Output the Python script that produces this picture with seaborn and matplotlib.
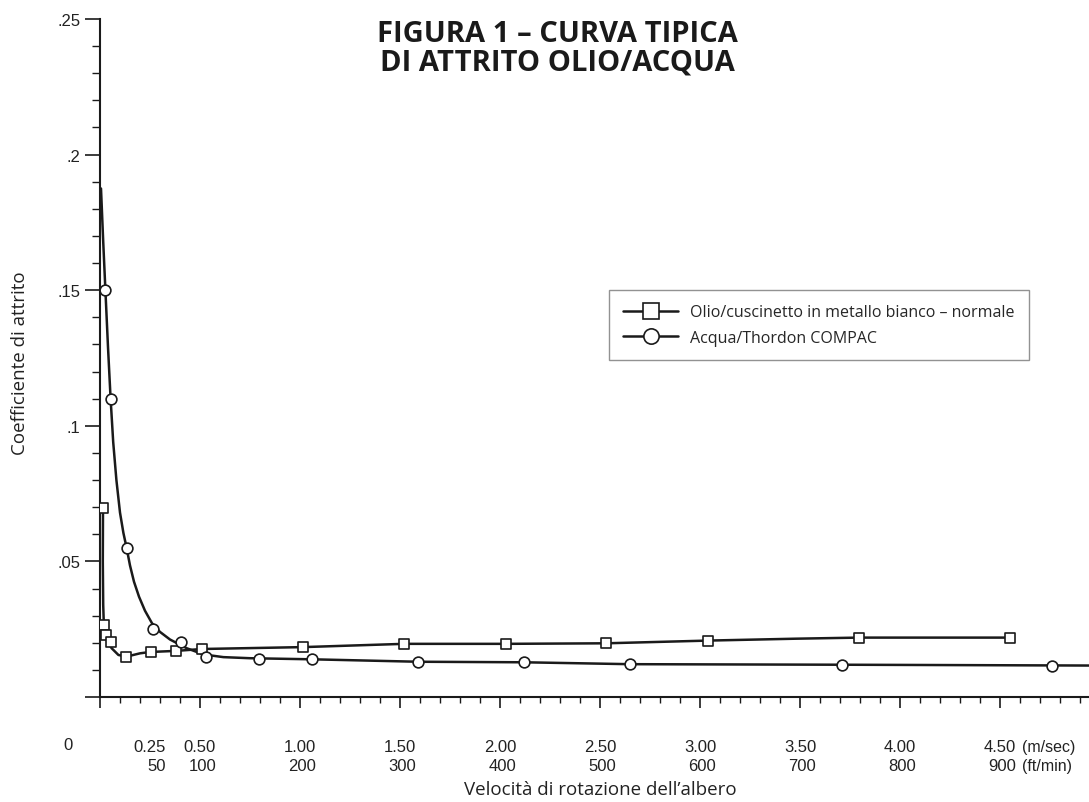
import numpy as np
import pandas as pd
import matplotlib
matplotlib.use("Agg")
import matplotlib.pyplot as plt
import matplotlib.transforms as mtransforms
from matplotlib.lines import Line2D
import seaborn as sns

# Measured points (m/sec, friction coefficient)
oil_x = [0.017, 0.02, 0.03, 0.053, 0.13, 0.253, 0.38, 0.51, 1.017, 1.52, 2.03, 2.53, 3.04, 3.795, 4.55]
oil_y = [0.0698, 0.0266, 0.0229, 0.0201, 0.0149, 0.0166, 0.0170, 0.0178, 0.0184, 0.0196, 0.0196, 0.0199, 0.0208, 0.0219, 0.0219]
water_x = [0.027, 0.053, 0.133, 0.263, 0.403, 0.53, 0.793, 1.058, 1.59, 2.12, 2.65, 3.71, 4.76]
water_y = [0.150, 0.110, 0.055, 0.0251, 0.0201, 0.0149, 0.0139, 0.0139, 0.0129, 0.0129, 0.0120, 0.0118, 0.0116]

# Fitted curves
oil_curve_x = [0.015, 0.014, 0.016, 0.020, 0.033, 0.058, 0.092, 0.133, 0.20, 0.25, 0.38, 0.51, 1.017, 1.52, 2.03, 2.53, 3.04, 3.48, 3.795, 4.55]
oil_curve_y = [0.0698, 0.050, 0.034, 0.0248, 0.0210, 0.0180, 0.0155, 0.0149, 0.0161, 0.0166, 0.0170, 0.0177, 0.0184, 0.0196, 0.0196, 0.0198, 0.0208, 0.0215, 0.0219, 0.0219]
water_curve_x = [0.005, 0.016, 0.027, 0.040, 0.053, 0.066, 0.082, 0.100, 0.117, 0.133, 0.150, 0.170, 0.195, 0.225, 0.260, 0.300, 0.350, 0.433, 0.517, 0.617, 0.75, 1.06, 1.59, 2.12, 2.65, 3.71, 4.945]
water_curve_y = [0.1875, 0.168, 0.150, 0.129, 0.110, 0.094, 0.080, 0.068, 0.0605, 0.055, 0.0485, 0.0425, 0.0370, 0.0318, 0.0272, 0.0240, 0.0212, 0.0180, 0.0157, 0.0147, 0.0143, 0.0139, 0.0130, 0.0128, 0.0121, 0.0119, 0.0116]

# Axis labels
ms_ticks = [0.25, 0.5, 1.0, 1.5, 2.0, 2.5, 3.0, 3.5, 4.0, 4.5]
ms_labels = ["0.25", "0.50", "1.00", "1.50", "2.00", "2.50", "3.00", "3.50", "4.00", "4.50"]
ftmin_labels = ["50", "100", "200", "300", "400", "500", "600", "700", "800", "900"]
y_ticks = [0.05, 0.1, 0.15, 0.2, 0.25]
y_labels = [".05", ".1", ".15", ".2", ".25"]

sns.set_style("white")
narrow = ["Liberation Sans Narrow", "Liberation Sans", "DejaVu Sans"]
geo = ["Open Sans", "DejaVu Sans"]
plt.rcParams["font.family"] = geo

ink = "#1a1a1a"
fig = plt.figure(figsize=(10.89, 8.03), dpi=100)
ax = fig.add_axes([100 / 1089, 105 / 803, 989 / 1089, 678 / 803])

oil_line = pd.DataFrame({"x": oil_curve_x, "y": oil_curve_y})
water_line = pd.DataFrame({"x": water_curve_x, "y": water_curve_y})
sns.lineplot(data=oil_line, x="x", y="y", sort=False, color=ink, lw=1.8, ax=ax, zorder=2)
sns.lineplot(data=water_line, x="x", y="y", sort=False, color=ink, lw=1.8, ax=ax, zorder=2)
sns.scatterplot(x=oil_x, y=oil_y, marker="s", s=55, facecolor="white", edgecolor=ink,
                linewidth=1.2, ax=ax, zorder=3)
sns.scatterplot(x=water_x, y=water_y, marker="o", s=60, facecolor="white", edgecolor=ink,
                linewidth=1.2, ax=ax, zorder=3)

ax.set_xlim(0, 4.945)
ax.set_ylim(0, 0.25)
for side in ["top", "right"]:
    ax.spines[side].set_visible(False)
for side in ["left", "bottom"]:
    ax.spines[side].set_color(ink)
    ax.spines[side].set_linewidth(1.5)

ax.set_xticks(np.arange(0, 4.95, 0.5))
ax.set_xticks(np.arange(0, 4.95, 0.1), minor=True)
ax.set_xticklabels([])
ax.set_yticks([0] + y_ticks)
ax.set_yticks(np.arange(0, 0.251, 0.01), minor=True)
ax.set_yticklabels([""] + y_labels, family=narrow, fontsize=12, color="#222222")
ax.tick_params(axis="x", which="major", direction="out", length=8, width=1.2, color=ink, bottom=True)
ax.tick_params(axis="x", which="minor", direction="out", length=4, width=1, color=ink, bottom=True)
ax.tick_params(axis="y", which="major", direction="out", length=11, width=1.2, color=ink, left=True, pad=3)
ax.tick_params(axis="y", which="minor", direction="out", length=5.5, width=1, color=ink, left=True)
ax.set_xlabel("")
ax.set_ylabel("")

trans = mtransforms.blended_transform_factory(ax.transData, ax.transAxes)
for x, m, f in zip(ms_ticks, ms_labels, ftmin_labels):
    ax.text(x, -59 / 678, m + "\n" + f, transform=trans, ha="center", va="center", multialignment="right",
            family=narrow, fontsize=12, color="#222222", linespacing=1.35)
ax.text(4.61, -59 / 678, "(m/sec)\n(ft/min)", transform=trans, ha="left", va="center",
        family=narrow, fontsize=11.5, color="#222222", linespacing=1.4)
ax.text(-0.16, -48 / 678, "0", transform=trans, ha="center", va="center", family=narrow, fontsize=12, color="#222222")

fig.text(557 / 1089, 1 - 48.5 / 803, "FIGURA 1 – CURVA TIPICA\nDI ATTRITO OLIO/ACQUA", ha="center", va="center",
         fontsize=21, fontweight="bold", color=ink, linespacing=0.97)
fig.text(20 / 1089, 1 - 363 / 803, "Coefficiente di attrito", rotation=90, ha="center", va="center",
         fontsize=13.5, color="#222222")
fig.text(600 / 1089, 1 - 790 / 803, "Velocità di rotazione dell’albero", ha="center", va="center",
         fontsize=13.5, color="#222222")

handles = [
    Line2D([], [], color=ink, lw=1.8, marker="s", ms=11, mfc="white", mec=ink, mew=1.2),
    Line2D([], [], color=ink, lw=1.8, marker="o", ms=11, mfc="white", mec=ink, mew=1.2),
]
leg = fig.legend(handles, ["Olio/cuscinetto in metallo bianco – normale", "Acqua/Thordon COMPAC"],
                 loc="upper left", bbox_to_anchor=(609 / 1089, 1 - 291 / 803), frameon=True, fancybox=False,
                 edgecolor="#777777", fontsize=11.5, handlelength=3.4, handletextpad=0.8, borderpad=0.9,
                 labelspacing=0.6, numpoints=1, borderaxespad=0)
leg.get_frame().set_linewidth(1)

fig.savefig("out.png", dpi=100)
